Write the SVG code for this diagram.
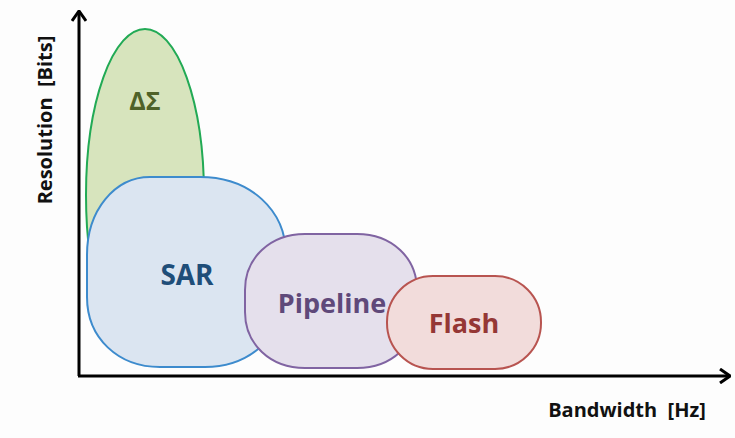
<svg xmlns="http://www.w3.org/2000/svg" width="735" height="438" viewBox="0 0 735 438">
<defs>
<marker id="arr" viewBox="0 0 12 16" refX="11" refY="8" markerWidth="12" markerHeight="16" markerUnits="userSpaceOnUse" orient="auto">
<polyline points="1,1 11,8 1,15" fill="none" stroke="#000" stroke-width="3" stroke-linejoin="miter"/>
</marker>
<style>
text{font-family:"Open Sans","Liberation Sans",sans-serif;font-weight:bold;}
.lbl{text-anchor:middle;font-size:27px;}
.ax{font-size:20px;fill:#111;white-space:pre;}
.axis{stroke:#000;stroke-width:3;fill:none;}
</style>
</defs>
<rect width="735" height="438" fill="#fdfdfd"/>
<g id="deltasigma">
<ellipse cx="145" cy="195" rx="59" ry="166" fill="#d7e4bd" stroke="#22aa55" stroke-width="2"/>
<text x="145" y="110" class="lbl" style="font-size:25px" fill="#4f6228">ΔΣ</text>
</g>
<g id="sar">
<path d="M150,177 L200,177 C250,177 286,210 286,255 L286,290 C286,335 250,367 205,367 L160,367 C118,367 87,338 87,297 L87,255 C87,210 115,177 150,177 Z" fill="#dbe5f1" stroke="#3d8bcd" stroke-width="2"/>
<text x="187" y="285" class="lbl" style="font-size:28px" fill="#1f4e79">SAR</text>
</g>
<g id="pipeline">
<path d="M305,234 L357,234 C392,234 417,258 417,290 L417,312 C417,344 392,368 357,368 L305,368 C270,368 245,344 245,312 L245,290 C245,258 270,234 305,234 Z" fill="#e5e0ec" stroke="#8064a2" stroke-width="2"/>
<text x="332" y="313" class="lbl" fill="#5f497a">Pipeline</text>
</g>
<g id="flash">
<rect x="387" y="276" width="154" height="93" rx="46" ry="46" fill="#f2dcdb" stroke="#b85450" stroke-width="2"/>
<text x="464" y="333" class="lbl" fill="#953735">Flash</text>
</g>
<g id="connectors">
<line class="axis" x1="79" y1="376" x2="79" y2="11" marker-end="url(#arr)"/>
<line class="axis" x1="78" y1="376" x2="730" y2="376" marker-end="url(#arr)"/>
</g>
<text class="ax" transform="translate(52,120) rotate(-90)" text-anchor="middle">Resolution  [Bits]</text>
<text class="ax" x="627" y="417" text-anchor="middle">Bandwidth  [Hz]</text>
</svg>
